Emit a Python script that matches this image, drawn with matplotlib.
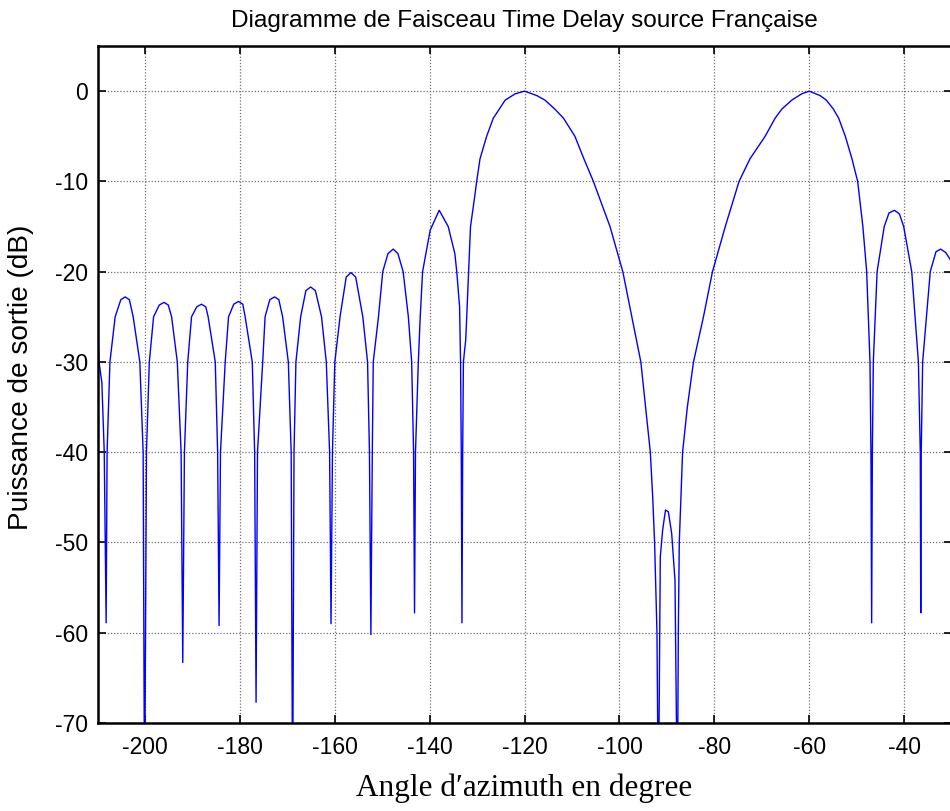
import numpy as np
import matplotlib
matplotlib.use("Agg")
import matplotlib.pyplot as plt

plt.rcParams["axes.unicode_minus"] = False

# points, in order of angle (deg, dB)
# sidelobes left of the first main lobe
left_angle = [-210.1, -209.9, -209.7, -209.1, -208.6, -208.2, -208.0, -207.4, -206.3, -205.1,
              -204.2, -203.3, -202.5, -201.1, -200.4, -200.1, -199.7, -199.1, -198.2, -197.0,
              -196.0, -195.1, -194.4, -193.2, -192.4, -192.05, -191.7, -191.0, -190.2, -189.1,
              -188.1, -187.2, -186.7, -185.2, -184.7, -184.4, -184.1, -183.1, -182.4, -181.3,
              -180.3, -179.4, -178.9, -177.4, -176.9, -176.6, -176.3, -175.2, -174.7, -173.7,
              -172.7, -171.8, -171.0, -169.8, -169.2, -168.9, -168.6, -168.2, -167.2, -166.1,
              -165.1, -164.1, -162.8, -161.8, -161.1, -160.8, -160.5, -160.0, -158.9, -157.6,
              -156.6, -155.6, -154.1, -153.1, -152.7, -152.4, -152.1, -151.9, -150.8, -149.9,
              -148.8, -147.7, -146.7, -145.6, -144.5, -143.8, -143.4, -143.2, -143.0, -142.4,
              -142.0, -141.5, -139.9, -138.0, -136.1, -134.7, -134.3, -133.7, -133.5, -133.35,
              -133.2]
left_db = [-25.3, -27.2, -30.0, -32.3, -40.0, -58.9, -40.0, -30.0, -25.0, -23.1,
           -22.8, -23.1, -25.0, -30.0, -40.0, -80.0, -40.0, -30.0, -25.0, -23.7,
           -23.4, -23.7, -25.0, -30.0, -40.0, -63.3, -40.0, -30.0, -25.0, -23.9,
           -23.6, -23.9, -25.0, -30.0, -40.0, -59.2, -40.0, -30.0, -25.0, -23.6,
           -23.3, -23.6, -25.0, -30.0, -40.0, -67.7, -40.0, -30.0, -25.0, -23.1,
           -22.8, -23.1, -25.0, -30.0, -40.0, -80.0, -40.0, -30.0, -25.0, -22.1,
           -21.7, -22.1, -25.0, -30.0, -40.0, -59.0, -40.0, -30.0, -25.0, -20.6,
           -20.1, -20.6, -25.0, -30.0, -40.0, -60.2, -40.0, -30.0, -25.0, -20.0,
           -18.0, -17.5, -18.0, -20.0, -25.0, -30.0, -40.0, -57.8, -40.0, -30.0,
           -25.0, -20.0, -15.4, -13.2, -15.0, -18.0, -20.0, -23.9, -30.0, -40.0,
           -58.9]

# main lobe steered at -120
lobe1_angle = [-133.05, -132.9, -132.4, -131.8, -131.4, -130.6, -130.1, -129.4, -128.0, -126.6,
               -124.1, -122.0, -120.0, -117.4, -115.7, -113.6, -111.8, -109.4, -107.5, -105.5,
               -102.0, -99.3, -97.4, -95.5, -94.5, -93.5, -93.0, -92.6, -92.1, -91.8]
lobe1_db = [-40.0, -30.0, -27.5, -20.0, -15.0, -12.0, -10.0, -7.5, -5.0, -3.0,
            -1.0, -0.3, 0.0, -0.5, -1.0, -2.0, -3.0, -5.0, -7.5, -10.0,
            -15.0, -20.0, -25.0, -30.0, -35.0, -40.0, -45.0, -50.0, -60.0, -80.0]

# small bump between the two main lobes
notch_angle = [-91.4, -90.9, -90.3, -89.7, -89.0, -88.3, -87.8]
notch_db = [-51.6, -48.6, -46.4, -46.6, -49.0, -54.2, -80.0]

# grating lobe at -60
lobe2_angle = [-87.6, -87.4, -86.7, -85.7, -84.4, -82.3, -80.4, -77.7, -74.8, -72.5,
               -69.3, -67.2, -65.8, -63.7, -61.6, -60.0, -57.7, -56.4, -54.9, -53.8,
               -52.4, -51.0, -49.8, -48.7, -47.9, -47.2, -47.0, -46.85]
lobe2_db = [-60.0, -50.0, -40.0, -35.0, -30.0, -25.0, -20.0, -15.0, -10.0, -7.5,
            -5.0, -3.0, -2.0, -1.0, -0.3, 0.0, -0.5, -1.0, -2.0, -3.0,
            -5.0, -7.5, -10.0, -15.0, -20.0, -30.0, -40.0, -58.9]

# sidelobes on the right
right_angle = [-46.7, -46.5, -45.7, -44.2, -43.2, -42.05, -41.0, -40.1, -38.4, -37.0,
               -36.6, -36.5, -36.4, -36.1, -34.5, -33.3, -32.3, -31.2, -30.0]
right_db = [-40.0, -30.0, -20.0, -15.0, -13.5, -13.2, -13.6, -15.0, -20.0, -30.0,
            -40.0, -57.8, -40.0, -30.0, -20.0, -17.8, -17.5, -17.9, -18.9]

angle = np.array(left_angle + lobe1_angle + notch_angle + lobe2_angle + right_angle)
power = np.array(left_db + lobe1_db + notch_db + lobe2_db + right_db)

x_ticks = list(range(-200, -39, 20))
y_ticks = list(range(-70, 1, 10))

fig = plt.figure(figsize=(9.5, 8.11), dpi=100)
ax = fig.add_axes([97.6 / 950, 88 / 811, 854 / 950, 677 / 811])

ax.plot(angle, power, color=(0, 0, 1), lw=1.0)

ax.set_xlim(-210, -30)
ax.set_ylim(-70, 5)
ax.set_xticks(x_ticks)
ax.set_yticks(y_ticks)

ax.grid(True, color="#6f6f6f", ls=(0, (1, 1.5)), lw=0.9)
ax.tick_params(direction="in", length=6, width=1.2, top=True, right=True,
               labelsize=16.5)
ax.tick_params(axis="x", pad=9)
ax.tick_params(axis="y", pad=7)
for lab in ax.get_xticklabels() + ax.get_yticklabels():
    lab.set_family("Liberation Sans")
for sp in ax.spines.values():
    sp.set_linewidth(1.8)

ax.set_title("Diagramme de Faisceau Time Delay source Française",
             family="Liberation Sans", fontsize=17.6, va="center", y=1.037, pad=0)
ax.set_xlabel("Angle d\u2032azimuth en degree", family=["Liberation Serif", "DejaVu Serif"],
              fontsize=22.5, va="center")
ax.xaxis.set_label_coords(0.5, -0.097)
ax.set_ylabel("Puissance de sortie (dB)", family="Liberation Sans", fontsize=20.2, va="center")
ax.yaxis.set_label_coords(-0.0897, 0.51)

fig.savefig("out.png", dpi=100)
